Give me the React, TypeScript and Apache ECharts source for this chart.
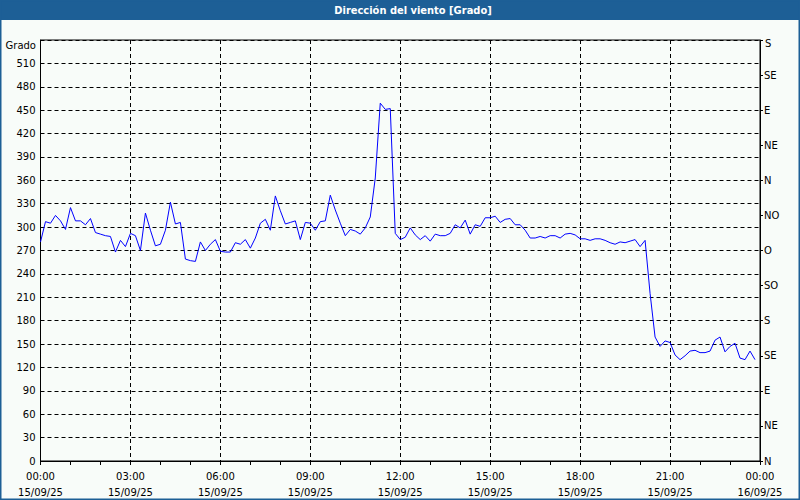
import React, { useEffect, useRef } from "react";
import * as echarts from "echarts";

// Chart title and axis names
const TITLE = "Dirección del viento [Grado]";
const Y_NAME = "Grado";

// Sampling: one value every 10 minutes starting 15/09/25 00:00
const STEP_MINUTES = 10;

// Wind direction (degrees, unwrapped)
const VALUES: number[] = [
  281, 307, 305, 315, 308, 297, 325, 308, 308, 303, 311, 293, 291, 289, 288, 268, 283, 275,
  292, 289, 270, 318, 296, 276, 278, 296, 332, 304, 306, 259, 257, 256, 281, 270, 278, 284,
  269, 268, 268, 280, 278, 284, 273, 286, 305, 310, 296, 340, 321, 304, 306, 308, 284, 306,
  305, 296, 307, 308, 341, 322, 305, 289, 297, 295, 291, 299, 313, 363, 459, 451, 452, 292,
  284, 287, 299, 290, 284, 289, 282, 291, 289, 289, 292, 303, 299, 309, 291, 303, 301, 312,
  312, 314, 306, 310, 311, 303, 303, 296, 286, 286, 288, 286, 289, 289, 286, 291, 292, 290,
  285, 285, 283, 285, 285, 283, 280, 278, 281, 280, 282, 284, 275, 283, 215, 159, 147, 154,
  152, 136, 130, 135, 141, 142, 139, 139, 141, 155, 159, 140, 147, 151, 132, 130, 141, 130,
];

// X tick labels every 3 hours
const X_TICK_TIMES = ["00:00", "03:00", "06:00", "09:00", "12:00", "15:00", "18:00", "21:00", "00:00"];
const X_TICK_DATES = [
  "15/09/25", "15/09/25", "15/09/25", "15/09/25", "15/09/25",
  "15/09/25", "15/09/25", "15/09/25", "16/09/25",
];

// Right-hand compass labels every 45 degrees from 0 to 540
const COMPASS_LABELS = ["N", "NE", "E", "SE", "S", "SO", "O", "NO", "N", "NE", "E", "SE", "S"];

const FONT = '"DejaVu Sans", Verdana, sans-serif';
const TITLE_FONT = '"DejaVu Sans Condensed", "DejaVu Sans", sans-serif';
const BLUE_BAR = "#1d5f96";
const BG = "#f8fcf9";

export default function App() {
  const ref = useRef<HTMLDivElement>(null);

  useEffect(() => {
    if (!ref.current) return;
    const chart = echarts.init(ref.current, null, { renderer: "svg" });
    const data = VALUES.map((v, i) => [i * STEP_MINUTES, v]);
    const dash = [4, 3];

    chart.setOption({
      animation: false,
      backgroundColor: BG,
      textStyle: { fontFamily: FONT },
      grid: {
        left: 40.5,
        right: 40,
        top: 40,
        bottom: 39,
        show: true,
        borderColor: "#000",
        borderWidth: 1,
        backgroundColor: "transparent",
      },
      xAxis: {
        type: "value",
        min: 0,
        max: 1440,
        interval: 180,
        axisLine: { show: true, onZero: false, lineStyle: { color: "#000", width: 1 } },
        axisTick: { show: true, length: 4, lineStyle: { color: "#000" } },
        minorTick: { show: true, splitNumber: 3, length: 4, lineStyle: { color: "#000" } },
        splitLine: { show: true, lineStyle: { color: "#000", type: dash, width: 1 } },
        axisLabel: {
          color: "#000",
          fontSize: 10,
          fontFamily: FONT,
          lineHeight: 16,
          margin: 7,
          formatter: (v: number) => {
            const i = Math.round(v / 180);
            return `${X_TICK_TIMES[i]}\n${X_TICK_DATES[i]}`;
          },
        },
      },
      yAxis: [
        {
          type: "value",
          min: 0,
          max: 540,
          interval: 30,
          position: "left",
          axisLine: { show: true, lineStyle: { color: "#000" } },
          axisTick: { show: false },
          splitLine: { show: true, lineStyle: { color: "#000", type: dash, width: 1 } },
          axisLabel: {
            color: "#000",
            fontSize: 10,
            fontFamily: FONT,
            margin: 5,
            formatter: (v: number) => (v >= 540 ? "" : String(v)),
          },
        },
        {
          type: "value",
          min: 0,
          max: 540,
          interval: 45,
          position: "right",
          axisLine: { show: true, lineStyle: { color: "#000" } },
          axisTick: { show: true, length: 3, lineStyle: { color: "#000" } },
          splitLine: { show: false },
          axisLabel: {
            color: "#000",
            fontSize: 10,
            fontFamily: FONT,
            margin: 4,
            formatter: (v: number) => (v >= 540 ? "" : COMPASS_LABELS[Math.round(v / 45)]),
          },
        },
      ],
      series: [
        {
          type: "line",
          data,
          yAxisIndex: 0,
          showSymbol: false,
          symbol: "none",
          lineStyle: { color: "#0000ff", width: 1 },
          z: 5,
        },
      ],
      graphic: [
        {
          type: "rect",
          shape: { x: 0, y: 0, width: 800, height: 20 },
          style: { fill: BLUE_BAR },
          silent: true,
        },
        {
          type: "text",
          x: 413,
          y: 10,
          style: {
            text: TITLE,
            fill: "#fff",
            fontSize: 11,
            fontWeight: "bold",
            fontFamily: TITLE_FONT,
            align: "center",
            verticalAlign: "middle",
          },
        },
        {
          type: "rect",
          shape: { x: 0.5, y: 0.5, width: 799, height: 499 },
          style: { fill: "none", stroke: BLUE_BAR, lineWidth: 2 },
          silent: true,
        },
        {
          type: "text",
          x: 36,
          y: 45,
          style: {
            text: Y_NAME,
            fill: "#000",
            fontSize: 10,
            fontFamily: FONT,
            align: "right",
            verticalAlign: "middle",
          },
        },
        {
          type: "text",
          x: 765,
          y: 43,
          style: {
            text: COMPASS_LABELS[COMPASS_LABELS.length - 1],
            fill: "#000",
            fontSize: 10,
            fontFamily: FONT,
            align: "left",
            verticalAlign: "middle",
          },
        },
      ],
    });

    return () => chart.dispose();
  }, []);

  return (
    <div
      ref={ref}
      style={{ position: "fixed", left: 0, top: 0, width: 800, height: 500 }}
    />
  );
}
